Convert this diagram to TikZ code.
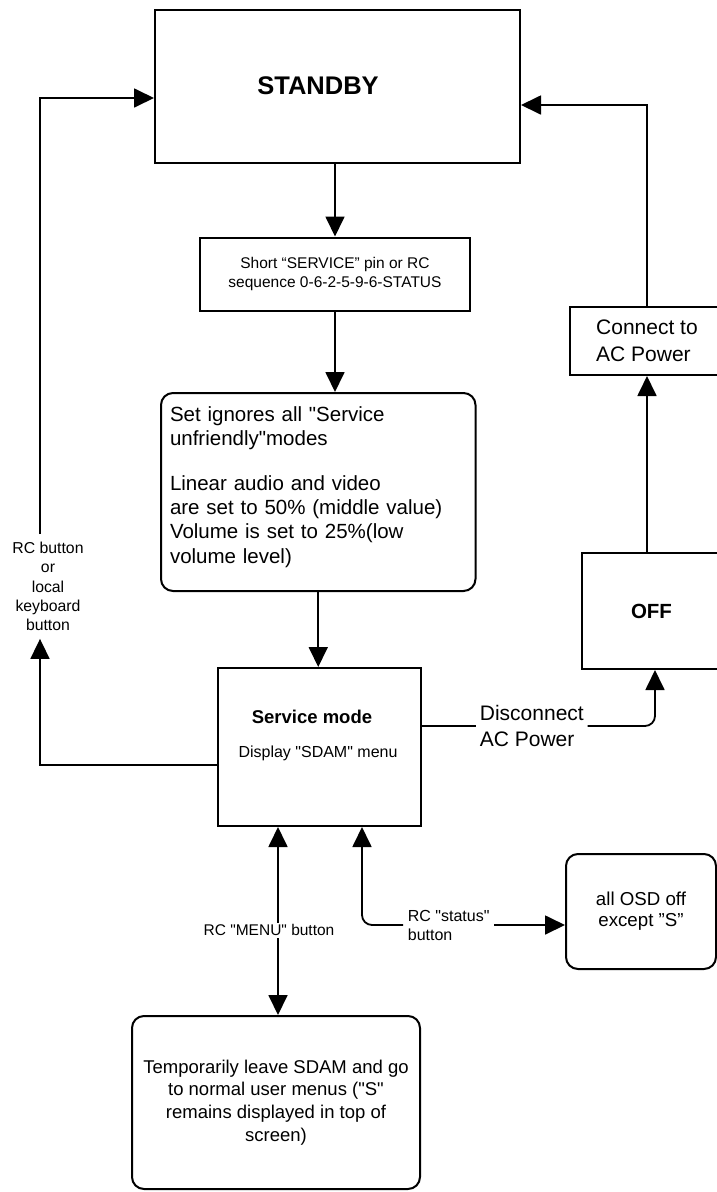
\documentclass[tikz,border=0pt]{standalone}
\usepackage{fontspec}
\setmainfont{Liberation Sans}[Ligatures=TeXOff]
\usetikzlibrary{arrows.meta}

\begin{document}
\begin{tikzpicture}[
        x=1pt, y=-1pt,
        line width=1.8pt,
        >={Triangle[length=20pt,width=19pt]},
        statebox/.style={draw, rectangle, line width=2pt, inner sep=0pt},
        roundbox/.style={statebox, rounded corners=12pt},
        lbl/.style={inner sep=3pt, align=center}
    ]
    \useasboundingbox (0,0) rectangle (717,1192);

    \node [statebox, minimum width=365pt, minimum height=153pt] (standby) at (337.5,86.5) {};
    \node [font=\fontsize{25.5}{30}\selectfont\bfseries] (standbytext) at (318,86) {STANDBY};

    \node [statebox, minimum width=270pt, minimum height=73pt, align=center,
           font=\fontsize{15.5}{18.3}\selectfont] (short) at (335,274)
          {Short “SERVICE” pin or RC\\sequence 0-6-2-5-9-6-STATUS};

    \node [roundbox, minimum width=314.5pt, minimum height=198pt, text width=296.5pt,
           inner xsep=9pt, align=left, font=\fontsize{20.5}{24.3}\selectfont] (set) at (318.25,492)
          {Set ignores all "Service\\unfriendly"modes\\[20pt]Linear audio and video\\are set to 50\% (middle value)\\Volume is set to 25\%(low\\volume level)\rule[-14pt]{0pt}{1pt}};

    \node [statebox, minimum width=203pt, minimum height=158pt] (service) at (319.5,747) {};
    \node [font=\fontsize{18.5}{22}\selectfont\bfseries] (servicetitle) at (312,717) {Service mode};
    \node [font=\fontsize{16}{19}\selectfont] (servicemenu) at (318,753) {Display "SDAM" menu};

    \node [statebox, minimum width=154pt, minimum height=68pt, align=left,
           font=\fontsize{21}{26.7}\selectfont] (connect) at (647,341) {Connect to\\AC Power};

    \node [statebox, minimum width=139pt, minimum height=116pt,
           font=\fontsize{20.5}{24}\selectfont\bfseries] (off) at (651.5,611) {OFF};

    \node [roundbox, minimum width=150pt, minimum height=115pt, align=center,
           font=\fontsize{18.7}{21}\selectfont] (osd) at (641,911.5) {all OSD off\\except ”S”};

    \node [roundbox, minimum width=288pt, minimum height=173pt, align=center,
           font=\fontsize{18.5}{22.7}\selectfont] (temp) at (276,1102.5)
          {Temporarily leave SDAM and go\\to normal user menus ("S"\hspace*{67pt}\\remains displayed in top of\\screen)};

    \coordinate (leftrail) at (40,0);
    \node [lbl, inner sep=0pt, minimum height=103pt, font=\fontsize{15.8}{19.4}\selectfont] (rclocal) at (48,586.5)
          {RC button\\or\\local\\keyboard\\button};
    \node [lbl, anchor=west, align=left, inner ysep=0pt, font=\fontsize{21}{26.7}\selectfont] (discon) at (476,726)
          {Disconnect\\AC Power};
    \node [lbl, anchor=west, align=left, inner xsep=4pt, inner ysep=0pt, font=\fontsize{16}{19}\selectfont] (statuslbl) at (403,925)
          {RC "status"\\button};

    \draw [->] (standby.south -| short.north) -- (short.north);
    \draw [->] (short.south) -- (short.south |- set.north);
    \draw [->] (set.south) -- (set.south |- service.north);

    \draw [->] ([yshift=-18pt]service.west) -| (rclocal.south -| leftrail);
    \draw [->] (rclocal.north -| leftrail) |- ([yshift=-11.5pt]standby.west);

    \draw ([yshift=21pt]service.east) -- (discon.west);
    \draw [->, rounded corners=10pt] (discon.east) -| ([xshift=3.5pt]off.south);
    \draw [->] (off.north -| connect.south) -- (connect.south);
    \draw [->] (connect.north) |- ([yshift=-18.5pt]standby.east);

    \draw [<->] ([xshift=-41.5pt]service.south) -- ([xshift=-41.5pt]service.south |- temp.north)
          node [lbl, fill=white, inner sep=2pt, pos=0.55, xshift=-9pt, font=\fontsize{15.5}{18}\selectfont] (menulbl) {RC "MENU" button};

    \draw [->, rounded corners=10pt] (statuslbl.west) -| ([xshift=42.5pt]service.south);
    \draw [->] (statuslbl.east) -- (statuslbl.east -| osd.west);
\end{tikzpicture}
\end{document}
